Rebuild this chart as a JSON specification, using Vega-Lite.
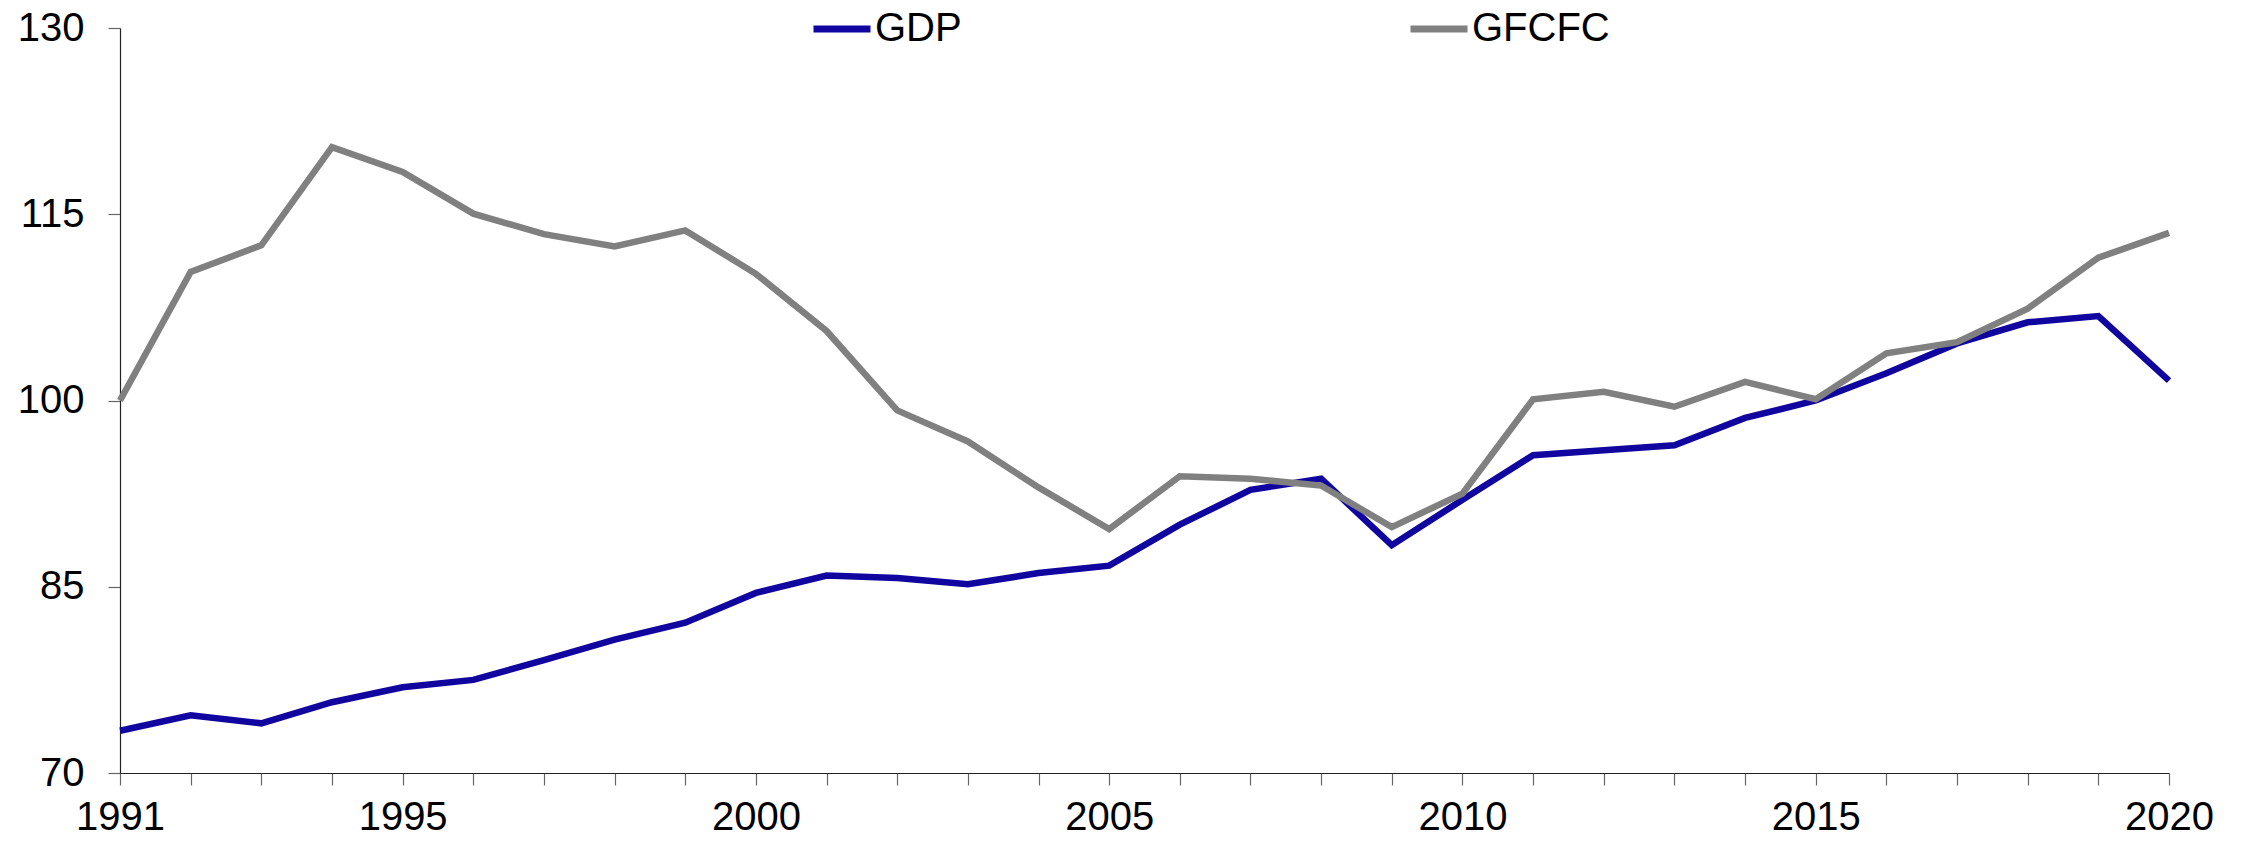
{
  "$schema": "https://vega.github.io/schema/vega-lite/v6.json",
  "width": 2049,
  "height": 745,
  "autosize": {"type": "none"},
  "padding": {"left": 120, "top": 28, "right": 77, "bottom": 73},
  "background": "white",
  "config": {
    "view": {"stroke": null},
    "font": "Liberation Sans",
    "axis": {"grid": false, "labelFont": "Liberation Sans", "labelFontSize": 40, "labelColor": "#000000", "domainColor": "#222222", "domainWidth": 1.2, "tickColor": "#666666", "tickWidth": 1.2, "tickSize": 12, "title": null}
  },
  "data": {
    "values": [
      {"year": 1991, "series": "GDP", "value": 73.4},
      {"year": 1992, "series": "GDP", "value": 74.65},
      {"year": 1993, "series": "GDP", "value": 74.0},
      {"year": 1994, "series": "GDP", "value": 75.7},
      {"year": 1995, "series": "GDP", "value": 76.9},
      {"year": 1996, "series": "GDP", "value": 77.5},
      {"year": 1997, "series": "GDP", "value": 79.1},
      {"year": 1998, "series": "GDP", "value": 80.75},
      {"year": 1999, "series": "GDP", "value": 82.1},
      {"year": 2000, "series": "GDP", "value": 84.5},
      {"year": 2001, "series": "GDP", "value": 85.9},
      {"year": 2002, "series": "GDP", "value": 85.7},
      {"year": 2003, "series": "GDP", "value": 85.2},
      {"year": 2004, "series": "GDP", "value": 86.1},
      {"year": 2005, "series": "GDP", "value": 86.7},
      {"year": 2006, "series": "GDP", "value": 90.0},
      {"year": 2007, "series": "GDP", "value": 92.8},
      {"year": 2008, "series": "GDP", "value": 93.7},
      {"year": 2009, "series": "GDP", "value": 88.35},
      {"year": 2010, "series": "GDP", "value": 92.0},
      {"year": 2011, "series": "GDP", "value": 95.6},
      {"year": 2012, "series": "GDP", "value": 96.0},
      {"year": 2013, "series": "GDP", "value": 96.4},
      {"year": 2014, "series": "GDP", "value": 98.6},
      {"year": 2015, "series": "GDP", "value": 100.0},
      {"year": 2016, "series": "GDP", "value": 102.2},
      {"year": 2017, "series": "GDP", "value": 104.6},
      {"year": 2018, "series": "GDP", "value": 106.3},
      {"year": 2019, "series": "GDP", "value": 106.8},
      {"year": 2020, "series": "GDP", "value": 101.6},
      {"year": 1991, "series": "GFCFC", "value": 100.0},
      {"year": 1992, "series": "GFCFC", "value": 110.35},
      {"year": 1993, "series": "GFCFC", "value": 112.5},
      {"year": 1994, "series": "GFCFC", "value": 120.4},
      {"year": 1995, "series": "GFCFC", "value": 118.4},
      {"year": 1996, "series": "GFCFC", "value": 115.05},
      {"year": 1997, "series": "GFCFC", "value": 113.4},
      {"year": 1998, "series": "GFCFC", "value": 112.4},
      {"year": 1999, "series": "GFCFC", "value": 113.7},
      {"year": 2000, "series": "GFCFC", "value": 110.2},
      {"year": 2001, "series": "GFCFC", "value": 105.6},
      {"year": 2002, "series": "GFCFC", "value": 99.2},
      {"year": 2003, "series": "GFCFC", "value": 96.7},
      {"year": 2004, "series": "GFCFC", "value": 93.0},
      {"year": 2005, "series": "GFCFC", "value": 89.65},
      {"year": 2006, "series": "GFCFC", "value": 93.9},
      {"year": 2007, "series": "GFCFC", "value": 93.7},
      {"year": 2008, "series": "GFCFC", "value": 93.15},
      {"year": 2009, "series": "GFCFC", "value": 89.8},
      {"year": 2010, "series": "GFCFC", "value": 92.5},
      {"year": 2011, "series": "GFCFC", "value": 100.1},
      {"year": 2012, "series": "GFCFC", "value": 100.7},
      {"year": 2013, "series": "GFCFC", "value": 99.5},
      {"year": 2014, "series": "GFCFC", "value": 101.5},
      {"year": 2015, "series": "GFCFC", "value": 100.1},
      {"year": 2016, "series": "GFCFC", "value": 103.8},
      {"year": 2017, "series": "GFCFC", "value": 104.7},
      {"year": 2018, "series": "GFCFC", "value": 107.4},
      {"year": 2019, "series": "GFCFC", "value": 111.5},
      {"year": 2020, "series": "GFCFC", "value": 113.5}
    ]
  },
  "encoding": {
    "x": {
      "field": "year", "type": "quantitative",
      "scale": {"domain": [1991, 2020], "nice": false, "zero": false},
      "axis": {
        "values": [1991,1992,1993,1994,1995,1996,1997,1998,1999,2000,2001,2002,2003,2004,2005,2006,2007,2008,2009,2010,2011,2012,2013,2014,2015,2016,2017,2018,2019,2020],
        "format": "d",
        "labelExpr": "indexof([1991,1995,2000,2005,2010,2015,2020], datum.value) >= 0 ? datum.label : ''",
        "labelOverlap": false,
        "labelFlush": false,
        "labelPadding": 12
      }
    },
    "y": {
      "field": "value", "type": "quantitative",
      "scale": {"domain": [70, 130], "nice": false, "zero": false},
      "axis": {"values": [70, 85, 100, 115, 130], "labelPadding": 24}
    },
    "color": {
      "field": "series", "type": "nominal",
      "scale": {"domain": ["GDP", "GFCFC"], "range": ["#10069f", "#808080"]},
      "legend": {
        "title": null,
        "orient": "none",
        "legendX": 690,
        "legendY": -31,
        "direction": "horizontal",
        "columns": 2,
        "columnPadding": 434,
        "symbolType": "stroke",
        "symbolSize": 3249,
        "symbolStrokeWidth": 7,
        "labelFontSize": 40,
        "labelFont": "Liberation Sans",
        "labelColor": "#000000",
        "labelOffset": 1,
        "labelLimit": 400
      }
    }
  },
  "layer": [
    {"transform": [{"filter": "datum.series === 'GDP'"}], "mark": {"type": "line", "strokeWidth": 6.5, "strokeJoin": "miter"}},
    {"transform": [{"filter": "datum.series === 'GFCFC'"}], "mark": {"type": "line", "strokeWidth": 6.5, "strokeJoin": "miter"}}
  ]
}
